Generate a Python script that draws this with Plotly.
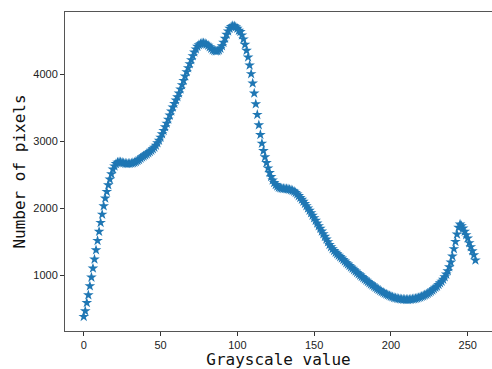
import plotly.graph_objects as go

# Grayscale histogram: pixel count for each gray level 0..255
gray_levels = list(range(256))
pixel_counts = [
    376, 461, 585, 700, 835, 965, 1100, 1235, 1374, 1514,
    1650, 1783, 1908, 2033, 2148, 2247, 2347, 2432, 2512, 2582,
    2630, 2665, 2685, 2692, 2690, 2683, 2676, 2670, 2667, 2666,
    2668, 2672, 2678, 2686, 2696, 2710, 2725, 2745, 2765, 2780,
    2795, 2810, 2828, 2845, 2865, 2885, 2910, 2940, 2975, 3015,
    3060, 3110, 3160, 3215, 3270, 3330, 3390, 3450, 3510, 3565,
    3615, 3665, 3720, 3780, 3845, 3910, 3975, 4040, 4100, 4160,
    4220, 4280, 4335, 4380, 4420, 4445, 4460, 4470, 4472, 4465,
    4452, 4435, 4412, 4390, 4370, 4356, 4350, 4352, 4365, 4390,
    4430, 4480, 4540, 4600, 4650, 4690, 4715, 4728, 4727, 4712,
    4690, 4660, 4640, 4590, 4530, 4450, 4360, 4260, 4140, 4010,
    3870, 3720, 3560, 3400, 3245, 3100, 2970, 2860, 2765, 2680,
    2600, 2530, 2470, 2420, 2380, 2350, 2328, 2312, 2302, 2296,
    2292, 2290, 2288, 2285, 2280, 2272, 2262, 2250, 2232, 2210,
    2185, 2158, 2130, 2100, 2068, 2035, 2000, 1965, 1930, 1893,
    1855, 1815, 1775, 1735, 1695, 1655, 1615, 1575, 1535, 1495,
    1455, 1420, 1390, 1362, 1337, 1314, 1293, 1272, 1250, 1228,
    1205, 1182, 1160, 1138, 1117, 1097, 1076, 1055, 1035, 1015,
    995, 976, 957, 938, 919, 900, 882, 864, 847, 829,
    812, 796, 780, 765, 751, 738, 725, 712, 700, 690,
    680, 670, 662, 655, 649, 644, 640, 637, 635, 633,
    632, 632, 633, 635, 638, 642, 647, 653, 660, 668,
    677, 687, 698, 710, 723, 738, 754, 772, 792, 812,
    830, 855, 880, 905, 935, 970, 1010, 1060, 1120, 1190,
    1280, 1390, 1500, 1610, 1710, 1760, 1735, 1700, 1650, 1600,
    1550, 1480, 1420, 1360, 1300, 1220,
]

x_ticks = [0, 50, 100, 150, 200, 250]
y_ticks = [1000, 2000, 3000, 4000]

fig = go.Figure(
    go.Scatter(
        x=gray_levels,
        y=pixel_counts,
        mode="markers",
        marker=dict(symbol="star", size=8, color="#1f77b4", line=dict(width=0)),
        showlegend=False,
    )
)

axis_font = dict(family="Liberation Sans, Arial, sans-serif", size=11, color="#222222")
title_font = dict(family="DejaVu Sans Mono, Liberation Mono, monospace", size=16, color="#111111")

fig.update_layout(
    width=492,
    height=369,
    margin=dict(l=65, r=0, t=12, b=38),
    paper_bgcolor="white",
    plot_bgcolor="white",
    xaxis=dict(
        range=[-12.2, 265.8],
        tickvals=x_ticks,
        ticks="outside",
        ticklen=4,
        tickcolor="#333333",
        showgrid=False,
        zeroline=False,
        showline=True,
        mirror=True,
        linecolor="#555555",
        linewidth=1,
        tickfont=axis_font,
        title=dict(text="Grayscale value", font=title_font, standoff=6),
    ),
    yaxis=dict(
        range=[162, 4937],
        tickvals=y_ticks,
        ticks="outside",
        ticklen=4,
        tickcolor="#333333",
        showgrid=False,
        zeroline=False,
        showline=True,
        mirror=False,
        linecolor="#555555",
        linewidth=1,
        tickfont=axis_font,
        title=dict(text="Number of pixels", font=title_font, standoff=3),
    ),
)

fig.write_html("out.html")
